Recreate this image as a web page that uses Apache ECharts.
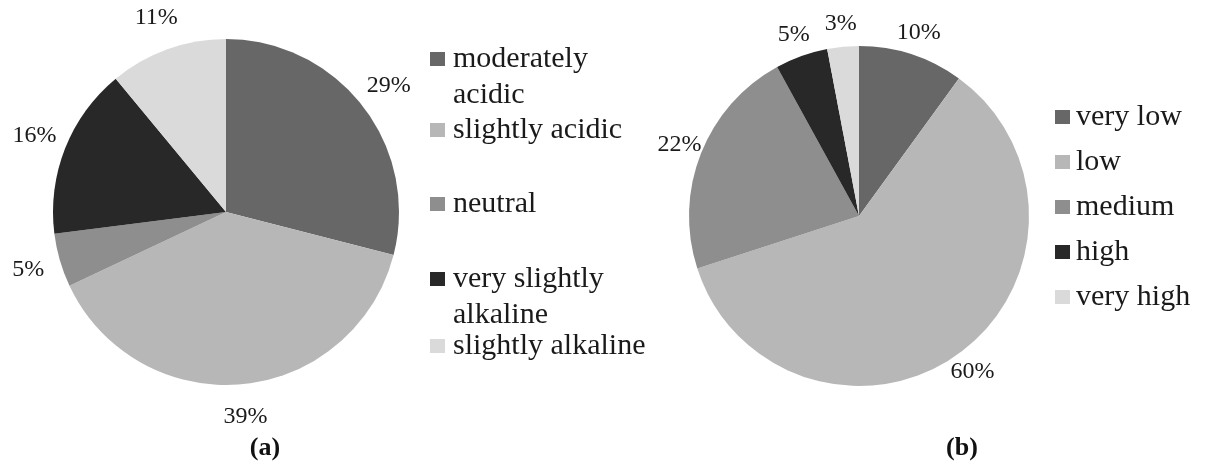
<!DOCTYPE html>
<html>
<head>
<meta charset="utf-8">
<script src="https://cdn.jsdelivr.net/npm/echarts@6/dist/echarts.min.js"></script>
<style>
  html, body { margin: 0; padding: 0; background: #fff; }
  #chart { width: 1207px; height: 469px; }
</style>
</head>
<body>
<div id="chart"></div>
<script>
// (a) 土壤酸碱度
const namesA = ["moderately acidic", "slightly acidic", "neutral", "very slightly alkaline", "slightly alkaline"];
const valuesA = [29, 39, 5, 16, 11];
// (b) 等级
const namesB = ["very low", "low", "medium", "high", "very high"];
const valuesB = [10, 60, 22, 5, 3];

const colors = ["#676767", "#b7b7b7", "#8e8e8e", "#282828", "#dadada"];
const fontFamily = "'Liberation Serif', 'DejaVu Serif', serif";
const textColor = "#1a1a1a";

// 图例换行（首行留空，让方块与第一行对齐）
const wrapped = {
    "moderately acidic": "\nmoderately\nacidic",
    "very slightly alkaline": "\nvery slightly\nalkaline"
};

const LH = 36;  // 图例行高
const iconCentersA = [59, 130, 204, 279, 346];  // 图例 (a) 各项方块中心

let chart = echarts.init(document.getElementById("chart"));

function pieData(names, values) {
    return names.map((n, i) => ({ name: n, value: values[i], itemStyle: { color: colors[i] } }));
}

// 外圈透明饼，仅用于放置百分比标签
function labelRing(id, center, radius, names, values) {
    return {
        type: "pie",
        id: id,
        center: center,
        radius: radius,
        startAngle: 90,
        silent: true,
        animation: false,
        itemStyle: { color: "transparent" },
        label: {
            show: true,
            position: "inside",
            formatter: "{c}%",
            fontFamily: fontFamily,
            fontSize: 24,
            color: textColor
        },
        labelLine: { show: false },
        data: names.map((n, i) => ({ name: n, value: values[i] }))
    };
}

function mainPie(center, radius, names, values) {
    return {
        type: "pie",
        center: center,
        radius: radius,
        startAngle: 90,
        animation: false,
        label: { show: false },
        labelLine: { show: false },
        emphasis: { disabled: true },
        data: pieData(names, values)
    };
}

const legendStyle = {
    orient: "vertical",
    icon: "rect",
    itemWidth: 15,
    itemHeight: 14,
    padding: 0,
    selectedMode: false,
    formatter: name => wrapped[name] || name
};

const legendsA = namesA.map((n, i) => {
    const twoLine = !!wrapped[n];
    return Object.assign({}, legendStyle, {
        data: [n],
        left: 430,
        top: twoLine ? iconCentersA[i] - 1.5 * LH : iconCentersA[i] - LH / 2,
        textStyle: {
            fontFamily: fontFamily,
            fontSize: 30,
            color: textColor,
            lineHeight: LH,
            padding: [0, 0, 0, 3]
        }
    });
});

const legendB = Object.assign({}, legendStyle, {
    data: namesB,
    left: 1055,
    top: 99,
    itemGap: 9,
    textStyle: {
        fontFamily: fontFamily,
        fontSize: 30,
        color: textColor,
        lineHeight: LH,
        padding: [0, 0, 0, 1]
    }
});

const titleStyle = { fontFamily: fontFamily, fontSize: 26, fontWeight: "bold", color: "#111" };

const option = {
    backgroundColor: "#fff",
    title: [
        { text: "(a)", left: 265, top: 435, padding: 0, textAlign: "center", textStyle: titleStyle },
        { text: "(b)", left: 962, top: 435, padding: 0, textAlign: "center", textStyle: titleStyle }
    ],
    legend: legendsA.concat([legendB]),
    series: [
        mainPie([226, 212], 173, namesA, valuesA),
        labelRing("ringA", [226, 212], [188, 218], namesA, valuesA),
        mainPie([859, 216], 170, namesB, valuesB),
        labelRing("ringB", [859, 216], [175, 205], namesB, valuesB)
    ]
};

chart.setOption(option);

window.addEventListener("resize", function () {
    chart.resize();
});
</script>
</body>
</html>
